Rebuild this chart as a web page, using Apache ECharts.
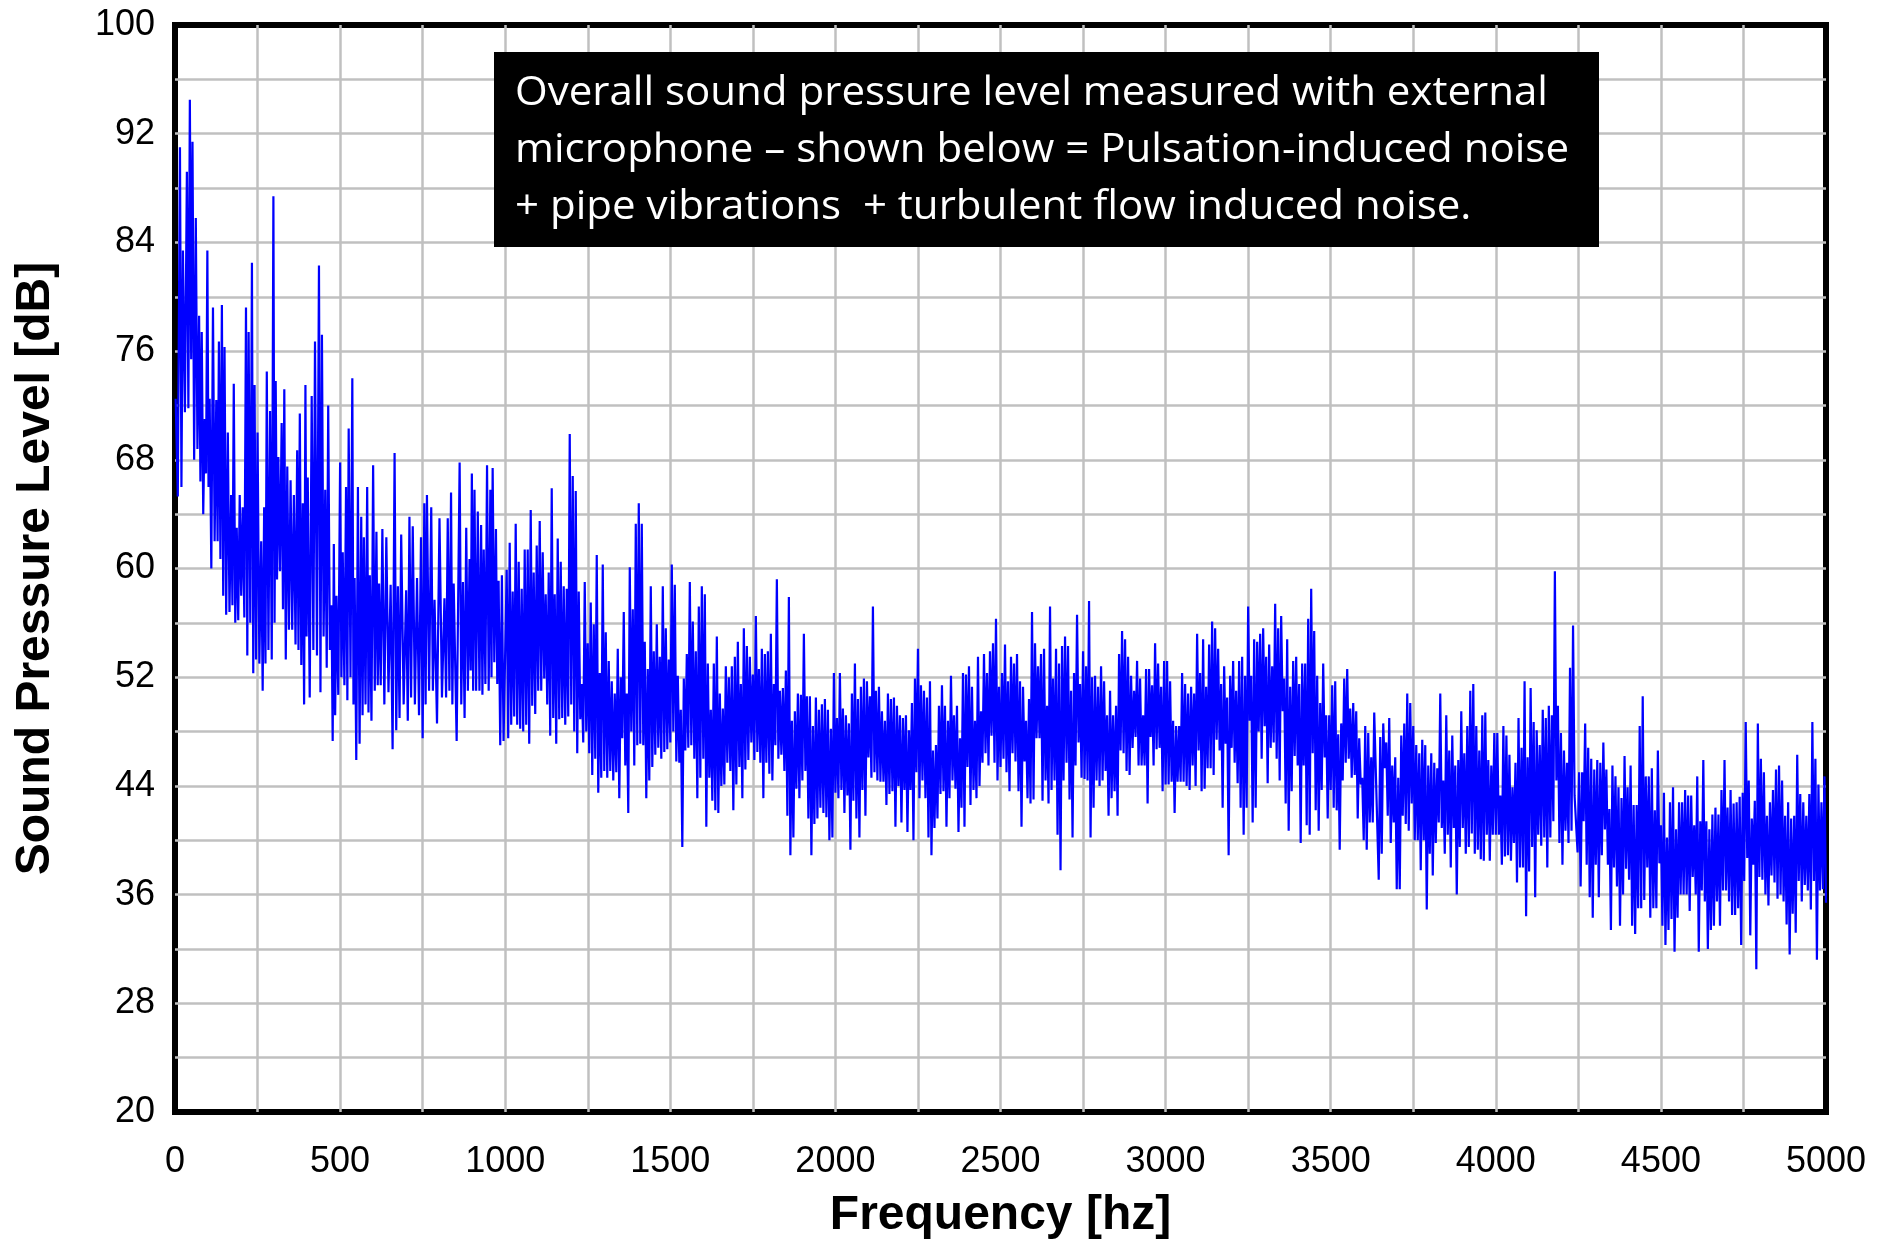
<!DOCTYPE html>
<html>
<head>
<meta charset="utf-8">
<script src="https://cdn.jsdelivr.net/npm/echarts@6/dist/echarts.min.js"></script>
<style>
html,body{margin:0;padding:0;background:#fff;}
#chart{width:1888px;height:1245px;}
</style>
</head>
<body>
<div id="chart"></div>
<script>
// ---- tick labels ----
const xTickLabels = [0, 500, 1000, 1500, 2000, 2500, 3000, 3500, 4000, 4500, 5000];
const yTickLabels = [20, 28, 36, 44, 52, 60, 68, 76, 84, 92, 100];
const xTitle = 'Frequency [hz]';
const yTitle = 'Sound Pressure Level [dB]';
const noteLines = [
  'Overall sound pressure level measured with external',
  'microphone \u2013 shown below = Pulsation-induced noise',
  '+ pipe vibrations  + turbulent flow induced noise.'
];

// ---- spectrum, 0-1000 Hz (frequencies) ----
const band0Hz = [2,15,24,36,45,53,63,73,81,90,98,105,115,125,133,142,150,160,170,178,187,196,205,215,223,233,241,250,261,270,278,288,298,305,313,323,331,340,350,360,370,378,387,395,402,414,424,436,445,455,464,474,481,489,500,508,518,526,537,544,554,564,572,582,590,600,610,618,628,640,653,665,675,685,700,710,720,733,745,755,763,776,786,801,816,826,836,844,862,872,882,892,899,907,917,927,935,945,955,962,972,980,990];
const band0Peak = [72.5,91,83.4,89.2,94.5,91.4,85.8,78.6,77.4,71,83.4,72.5,79.2,72.4,76.7,79.4,76.3,70,65.4,73.6,63,65.4,64.5,79.2,77.4,82.5,73.5,70,62,64.5,74.5,71.6,87.4,73.8,68.2,70.7,73.2,67.5,66.5,65.4,68.7,71.4,64.8,73.5,66.7,72.7,76.7,82.3,77.2,65.8,72,57.3,61.8,58,67.8,61.2,66,70.3,74,59.3,66,63.8,62.3,66,59.5,67.6,62.7,58.9,62.9,62.3,58.8,68.5,58.7,62.5,58.4,63.8,63.1,59.3,62.3,64.8,65.4,64.5,57.7,63.7,57.8,63.7,65.6,58.9,67.8,59,63,60.7,67,65.8,64.2,63.2,61.4,67.6,65.8,67.4,62.9,59.1,59.5];
const band0Dip = [65.3,66,71.5,71.8,75.4,68,68.8,66.4,64,67,66,60,62,62,60.7,58,56.6,56.8,57.3,56,56.2,58,56.4,53.6,56,52.3,53.3,53,51,53,54,53.3,56,59.2,59.8,57,53.3,55.5,55.5,54.4,54,52.9,50,55,50.5,54,53.6,50.9,55,52.7,54,47.3,49.2,50.7,52,51.4,50.3,52,50,45.9,47.1,49.2,50,49.4,48.8,51,51.4,51.4,50,50.9,46.7,48.1,49,50,48.8,50.5,50,49.2,47.5,50,51,51,48.6,50.5,50.5,51,50,47.3,50,49,51,52.5,51,51,51,50.7,51.5,51,52,53.1,51.5,47,47.3];

// ---- 1000-2000 Hz (evenly spaced readings) ----
const band1Peak = [59.9,61.9,58.3,63.3,60.5,58.5,61.4,61.4,64.3,59.7,61.7,63.5,61.2,58.1,59.7,65.9,58.1,62.2,60.5,58.7,58.5,69.9,66.8,65.7,58.3,51.5,59,54.5,57.5,55.9,61,52.3,60.3,55.3,53.2,51.7,50.8,54.1,52,56.8,50.8,60.1,57,63.3,64.8,63.3,54.6,52.6,58.7,53.9,55.9,53.5,58.7,55.6,53.3,60.3,58.8,52.1,49.6,51.9,53.7,59,56.1,53.9,57.2,58.7,58.1,53,49.6,53,55,50.8,49.7,52.8,52,52.8,53.5,54.6,51.5,55.6,54.3,53.5,52.2,56.5,52.6,54.1,53.7,53.9,55.2,51.5,59.2,51,51.2,52.5,57.9,48.8,49.5,50.8,50.7,55.2,50.6,50.6,48.4,50.5,49.6,50,50.4,49.6,48.2,52.3];
const band1Dip = [47.5,48.5,49.1,48.5,48.2,48,48.5,47.1,49.9,49.3,51,51,51.9,50,47.7,49,47.1,48.9,49,48.5,49.1,50,48,46.4,48.9,47.2,48,46.4,44.8,46,43.5,44.6,45.1,44.6,45.1,44.4,45,43.1,47.5,45.5,42,48,45.5,47,47.1,47,43.1,44.4,45.4,46.3,46.8,46,46.5,46.7,47.2,48,45.8,45.7,39.5,46.6,46.8,47,46,43.1,44.6,46,41,44.6,42.9,42.2,42,44,44.1,45.7,45.1,42.2,44.1,45.4,43.1,45.2,45.9,47.2,45.9,46.5,45.7,43.1,45.7,44.9,44.4,47,46,46.3,45.1,41.8,38.9,40.2,43.8,43.1,44.4,45.1,41.6,38.9,41.2,41.6,42.4,42,41.7,40,40.2,43.5];

// ---- 2000-3000 Hz ----
const band2Peak = [49,52.3,49.7,49.2,48.6,50.8,53,50.4,51.3,51.9,51.7,50.6,57.2,51,51.3,49.5,48.8,50.8,50.4,50.5,49.9,49.2,49,49.2,48.1,50.1,51.9,54.1,51.4,51,50.5,51.7,46.6,47,49.9,51.4,49.9,48.8,52.1,49.2,49.9,47.5,52.3,52.2,52.8,51.3,48.8,53.5,49.5,53.7,52.3,53.9,54.5,56.3,51.3,52.3,54.4,51.7,53.5,53,53.7,51.7,51.3,48.8,50.4,56.8,54.5,52.8,53.7,54.1,49.9,57.2,51.9,54.1,53,54.3,55,54.3,51,52.3,56.6,51.5,53.9,52.8,57.6,52,52.1,51.3,52.8,51.7,49.2,51,49.2,49.9,53.7,55.4,54.8,53.5,52.1,51,53.2,51.9,49.2,52.6,52.6,51.4,54.5,53,51.3,53.2];
const band2Dip = [43.1,43.7,42,43.3,39.3,42.9,41.6,40.2,43.7,41.8,46.1,44.6,45,44.4,44.3,44.3,42.6,43.4,43.6,41,44,41.3,43.7,40.6,43.7,40,45,43.1,44.4,43.1,40.2,38.9,40.9,41.6,43.4,43.6,41,43.1,44.4,43.8,40.6,42.4,41,45.4,42.6,43.7,43.1,44,45.7,46.4,45.5,47.7,45.7,44.4,45.4,46,45,43.6,46.4,45.8,43.6,41,45.8,43.1,42.7,43,47.5,47.5,42.9,44.4,42.7,43.7,44.4,40.4,37.8,44.4,45.7,43,40.2,45.5,47.2,44.6,44.5,44.4,40.2,42.4,44.4,44,44.4,45.1,41.8,43.1,43.6,41.8,46.6,46.4,45.1,44.8,46.8,47.6,45.5,45.5,45.5,42.7,47.6,45.5,46.7,46.8,43.6,44.1];

// ---- 3000-4000 Hz ----
const band3Peak = [53.2,51.7,48.8,48.4,48.4,52.3,51.5,50.8,51.3,50.8,55.2,52.3,54.8,51.3,54.4,56.1,55.6,54.1,51.5,52.8,50.5,52.1,53.2,51,53.2,53.5,52.1,57.2,52.1,54.8,54.6,55.2,55.6,53.5,54.4,52.8,57.4,55.6,56.5,51.9,54.8,51.3,53.2,53.5,51.5,53,53,56.3,58.5,55.4,52.1,50.1,53,49.2,49.2,51.4,51.7,47.8,48.6,51.9,52.6,49.7,50.1,49.5,47.5,44.6,48.4,47.9,46.1,49.4,45.3,47.6,48.6,47.2,49,45.5,46.1,44.6,47.7,48.6,50.8,50.1,48.4,47,46.4,47.4,47,45.5,46.4,45.7,45.3,50.8,44.4,49.2,46.6,47.7,45.5,45.9,49.5,46.4,48.4,51,51.5,48.4,46.6,49.2,49.4,45.9,45.5,47.9];
const band3Dip = [44.1,44.3,42,44.3,44.3,44.3,44,43.7,45.5,44,46.6,43.6,43.8,45.3,45.3,44.8,47.4,46.6,42.4,47.1,38.9,46.8,45.7,44.2,42.4,40.4,42.4,48.8,41.3,42.4,48,46,48.4,44.2,46.8,47.2,46,44.4,49.5,42.7,40.7,43.6,46.2,45.5,39.8,45.5,41.1,40.4,46.4,42.2,40.7,43.7,46.1,41.6,43.7,42.4,42.2,39.3,44.4,45.7,46,44.6,44.8,41.6,44.1,40,39.3,41.3,41.3,45.3,37.1,39,45.3,41.8,39.8,41.3,36.4,36.4,41.8,41.2,40.7,42.7,40,40,37.8,40,34.9,39,37.4,39.8,41.3,40.9,39,40.4,38,40.9,36,39.5,40.9,39,39.5,40.5,39,39.3,38.6,38.5,40.4,38.5,40.4,40.4];

// ---- 4000-5000 Hz ----
const band4Peak = [47.9,43.3,48.4,47.7,46.3,43.9,45.7,49,46.8,51.7,46.1,51.2,48.7,48.1,47,49.6,49,49.9,49.2,59.8,49.9,47.9,46.6,45.7,52.7,55.8,43.3,45,45,48.6,46.8,46,45.2,45.9,45.7,47.2,45.2,42.3,45.5,44.7,43.9,43.1,46.2,43.9,45.5,42.6,42.6,48.4,50.6,44.7,44.7,45.3,42.2,46.6,41.1,43.5,40.2,42.8,43.9,40.8,42.8,42.8,43.7,43.3,43.3,41.1,44.7,41.4,45.9,41.4,40.8,41.9,42.4,41.9,43.7,45.9,42.4,43.7,42.7,42.8,43.2,43.5,48.7,44.4,41.6,42.9,48.6,46,45,41.8,42.8,43.7,45.2,45.5,44.4,41.8,42.8,41.6,41.8,46.3,43.4,42.8,41.8,43.4,48.7,46,44.1,42.8,44.7];
const band4Dip = [40.4,38.2,38.8,38.9,38.5,39.8,36.9,38,38,34.4,37.7,39.5,35.8,40.4,39.6,40.2,38,40.2,41.4,44.4,39.8,38.2,40.7,39.8,40.7,43.3,39.1,36.6,41.4,38.2,35.8,34.3,38.2,35.8,38.9,40.8,38.2,33.4,38,36.6,33.7,36,37.9,37.1,33.7,33.1,35,35,35.6,38,34.3,35,35,38.3,33.7,32.3,33.4,34.2,31.8,34.3,36,36,36,34.8,37.3,36,31.8,36.3,35.5,32,33.4,33.7,35.5,33.7,36.3,36.3,35.5,34.5,34.5,35,32.3,37,38.7,33,38.2,30.5,37.3,37.1,36,35.2,37.4,36.9,35.7,36,35.5,33.8,31.6,34.6,33.2,37,35.5,36.7,36.3,34.9,37,31.2,36.3,36.4,35.4];

// ---- build the trace ----
function evenHz(start, n) {
  const out = [];
  for (let i = 0; i < n; i++) out.push(start + (i + 0.5) * 1000 / n);
  return out;
}
function addBand(out, hz, peak, dip) {
  for (let i = 0; i < peak.length; i++) {
    const f = hz[i];
    const next = i + 1 < hz.length ? hz[i + 1] : f + (f - hz[i - 1]);
    out.push([f, peak[i]]);
    out.push([(f + next) / 2, dip[i]]);
  }
}
const trace = [];
addBand(trace, band0Hz, band0Peak, band0Dip);
addBand(trace, evenHz(1000, band1Peak.length), band1Peak, band1Dip);
addBand(trace, evenHz(2000, band2Peak.length), band2Peak, band2Dip);
addBand(trace, evenHz(3000, band3Peak.length), band3Peak, band3Dip);
addBand(trace, evenHz(4000, band4Peak.length), band4Peak, band4Dip);

// ---- annotation text fitting ----
const noteFontSize = 40;
const noteFont = noteFontSize + 'px "Open Sans", "Noto Sans", sans-serif';
const mctx = document.createElement('canvas').getContext('2d');
mctx.font = noteFont;
const noteScaleX = 1054 / mctx.measureText(noteLines[1]).width;
const noteY = [94, 151, 208];

const chart = echarts.init(document.getElementById('chart'), null, {renderer: 'canvas'});
const labelStyle = {fontFamily: 'Liberation Sans, Arial, sans-serif', fontSize: 36, color: '#000'};
const titleStyle = {fontFamily: 'Liberation Sans, Arial, sans-serif', fontSize: 48, fontWeight: 'bold', color: '#000'};
const gridLine = {show: true, showMinLine: false, showMaxLine: false, lineStyle: {color: '#c0c0c0', width: 2.5, type: 'solid'}};

const graphics = [{
  type: 'rect', z: 100,
  shape: {x: 494, y: 52, width: 1105, height: 195},
  style: {fill: '#000'}
}];
noteLines.forEach((t, i) => {
  graphics.push({
    type: 'text', z: 101,
    x: 515, y: noteY[i], scaleX: noteScaleX, scaleY: 1,
    style: {text: t, fill: '#fff', font: noteFont, textAlign: 'left', textVerticalAlign: 'middle', align: 'left', verticalAlign: 'middle'}
  });
});

chart.setOption({
  animation: false,
  backgroundColor: '#fff',
  grid: {left: 175, right: 62, top: 25, bottom: 131, show: true, borderColor: '#000', borderWidth: 6, backgroundColor: '#fff', containLabel: false},
  xAxis: {
    type: 'value',
    min: xTickLabels[0], max: xTickLabels[xTickLabels.length - 1],
    interval: xTickLabels[1] - xTickLabels[0],
    name: xTitle, nameLocation: 'middle', nameGap: 80, nameTextStyle: titleStyle,
    axisLine: {show: false}, axisTick: {show: false},
    axisLabel: Object.assign({margin: 32, showMinLabel: true, showMaxLabel: true, formatter: v => String(v)}, labelStyle),
    splitLine: gridLine,
    minorTick: {show: false, splitNumber: 2},
    minorSplitLine: gridLine
  },
  yAxis: {
    type: 'value',
    min: yTickLabels[0], max: yTickLabels[yTickLabels.length - 1],
    interval: yTickLabels[1] - yTickLabels[0],
    name: yTitle, nameLocation: 'middle', nameGap: 115, nameTextStyle: titleStyle,
    axisLine: {show: false}, axisTick: {show: false},
    axisLabel: Object.assign({margin: 20, showMinLabel: true, showMaxLabel: true, formatter: v => String(v)}, labelStyle),
    splitLine: gridLine,
    minorTick: {show: false, splitNumber: 2},
    minorSplitLine: gridLine
  },
  series: [{
    type: 'line',
    data: trace,
    showSymbol: false,
    symbol: 'none',
    sampling: null,
    lineStyle: {color: '#0000ff', width: 2.2},
    itemStyle: {color: '#0000ff'},
    z: 5
  }],
  graphic: graphics
});
</script>
</body>
</html>
